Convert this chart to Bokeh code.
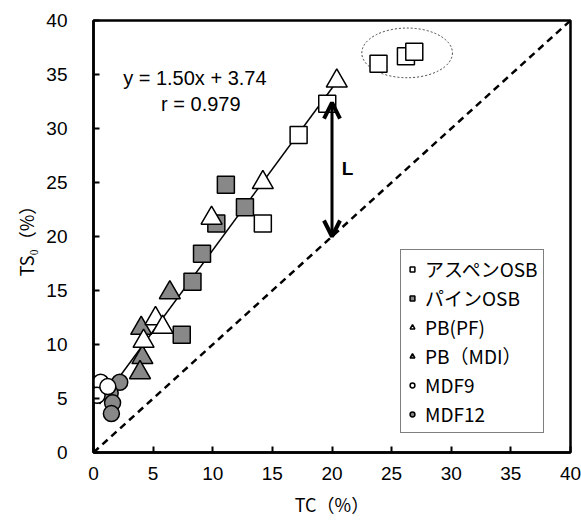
from bokeh.plotting import figure
from bokeh.models import Range1d, FixedTicker, Legend, LegendItem, Arrow, OpenHead, Label
from bokeh.embed import file_html
from bokeh.resources import INLINE

# ---- data ----
aspen_x = [23.9, 26.2, 26.9, 19.6, 17.2, 14.2]
aspen_y = [36.0, 36.7, 37.1, 32.3, 29.4, 21.2]

pine_x = [11.1, 12.7, 10.3, 9.1, 8.3, 7.4]
pine_y = [24.8, 22.7, 21.2, 18.4, 15.8, 10.9]

pbpf_x = [20.4, 14.2, 9.9, 5.2, 5.8, 4.2]
pbpf_y = [34.4, 25.0, 21.7, 12.4, 11.6, 10.3]

pbmdi_x = [6.4, 4.0, 4.1, 3.9]
pbmdi_y = [14.8, 11.5, 8.8, 7.4]

mdf9_x = [0.6, 0.3, 1.2]
mdf9_y = [6.5, 5.3, 6.1]

mdf12_x = [2.2, 1.4, 1.6, 1.5]
mdf12_y = [6.5, 5.5, 4.6, 3.6]

fit_slope = 1.50
fit_intercept = 3.74
fit_r = 0.979
fit_x = [0.5, 20.5]

ticks = [0, 5, 10, 15, 20, 25, 30, 35, 40]

GRAY = "#888888"
FONT = "Liberation Sans"
JFONT = "Noto Sans CJK JP"

p = figure(width=581, height=524, x_range=Range1d(0, 40), y_range=Range1d(0, 40),
           output_backend="svg", toolbar_location=None,
           min_border_left=93, min_border_right=11, min_border_top=20, min_border_bottom=72)

p.grid.visible = False
p.outline_line_color = "black"
p.outline_line_width = 2.5

for ax in (p.xaxis[0], p.yaxis[0]):
    ax.ticker = FixedTicker(ticks=ticks)
    ax.minor_tick_line_color = None
    ax.major_tick_in = 6
    ax.major_tick_out = 0
    ax.major_tick_line_width = 2
    ax.axis_line_width = 2.5
    ax.major_label_text_font = FONT
    ax.major_label_text_font_size = "19px"
    ax.major_label_text_color = "black"
    ax.axis_label_text_font = JFONT
    ax.axis_label_text_font_size = "18px"
    ax.axis_label_text_font_style = "normal"
    ax.axis_label_text_color = "black"

p.xaxis.axis_label = "TC（%）"
p.yaxis.axis_label = "TS₀（%）"
p.xaxis.major_label_standoff = 14
p.yaxis.major_label_standoff = 26
p.xaxis.axis_label_standoff = 8
p.yaxis.axis_label_standoff = 4

# 1:1 dashed line
p.line([0, 40], [0, 40], line_color="black", line_width=2.5, line_dash="7 5")

# regression line
fit_y = [fit_slope * x + fit_intercept for x in fit_x]
p.line(fit_x, fit_y, line_color="black", line_width=1.5)

# ellipse around the three aspen points
p.ellipse(x=[26.3], y=[37.0], width=7.6, height=4.6, fill_color=None,
          line_color="#444444", line_width=1, line_dash="2 2")

r_mdf12 = p.scatter(mdf12_x, mdf12_y, marker="circle", size=16, fill_color=GRAY, line_color="black", line_width=1.5)
r_mdf9 = p.scatter(mdf9_x, mdf9_y, marker="circle", size=16, fill_color="white", line_color="black", line_width=1.5)
r_pbmdi = p.scatter(pbmdi_x, pbmdi_y, marker="triangle", size=21, fill_color=GRAY, line_color="black", line_width=1.5)
r_pine = p.scatter(pine_x, pine_y, marker="square", size=17, fill_color=GRAY, line_color="black", line_width=1.5)
r_pbpf = p.scatter(pbpf_x, pbpf_y, marker="triangle", size=21, fill_color="white", line_color="black", line_width=1.5)
r_aspen = p.scatter(aspen_x, aspen_y, marker="square", size=17, fill_color="white", line_color="black", line_width=1.5)

# arrow L
p.add_layout(Arrow(start=OpenHead(size=16, line_width=4), end=OpenHead(size=16, line_width=4),
                   x_start=20, y_start=20, x_end=20, y_end=32.4, line_width=3))
p.add_layout(Label(x=21.3, y=26.3, text="L", text_font=FONT, text_font_size="19px",
                   text_font_style="bold", text_align="center", text_baseline="middle",
                   text_color="black"))

p.add_layout(Label(x=8.5, y=34.7, text=f"y = {fit_slope:.2f}x + {fit_intercept:.2f}", text_font=FONT,
                   text_font_size="20px", text_align="center", text_baseline="middle",
                   text_color="black"))
p.add_layout(Label(x=9.0, y=32.3, text=f"r = {fit_r:.3f}", text_font=FONT,
                   text_font_size="20px", text_align="center", text_baseline="middle",
                   text_color="black"))

legend = Legend(items=[
    LegendItem(label="アスペンOSB", renderers=[r_aspen]),
    LegendItem(label="パインOSB", renderers=[r_pine]),
    LegendItem(label="PB(PF)", renderers=[r_pbpf]),
    LegendItem(label="PB（MDI）", renderers=[r_pbmdi]),
    LegendItem(label="MDF9", renderers=[r_mdf9]),
    LegendItem(label="MDF12", renderers=[r_mdf12]),
], location=(307, 19))
legend.label_text_font = JFONT
legend.label_text_font_size = "19px"
legend.label_text_color = "black"
legend.glyph_width = 12
legend.glyph_height = 22
legend.label_height = 22
legend.spacing = 2
legend.label_standoff = 7
legend.padding = 5
legend.margin = 0
legend.border_line_color = "black"
legend.border_line_width = 1
legend.background_fill_alpha = 1
p.add_layout(legend)

open("out.html", "w").write(file_html(p, INLINE))
